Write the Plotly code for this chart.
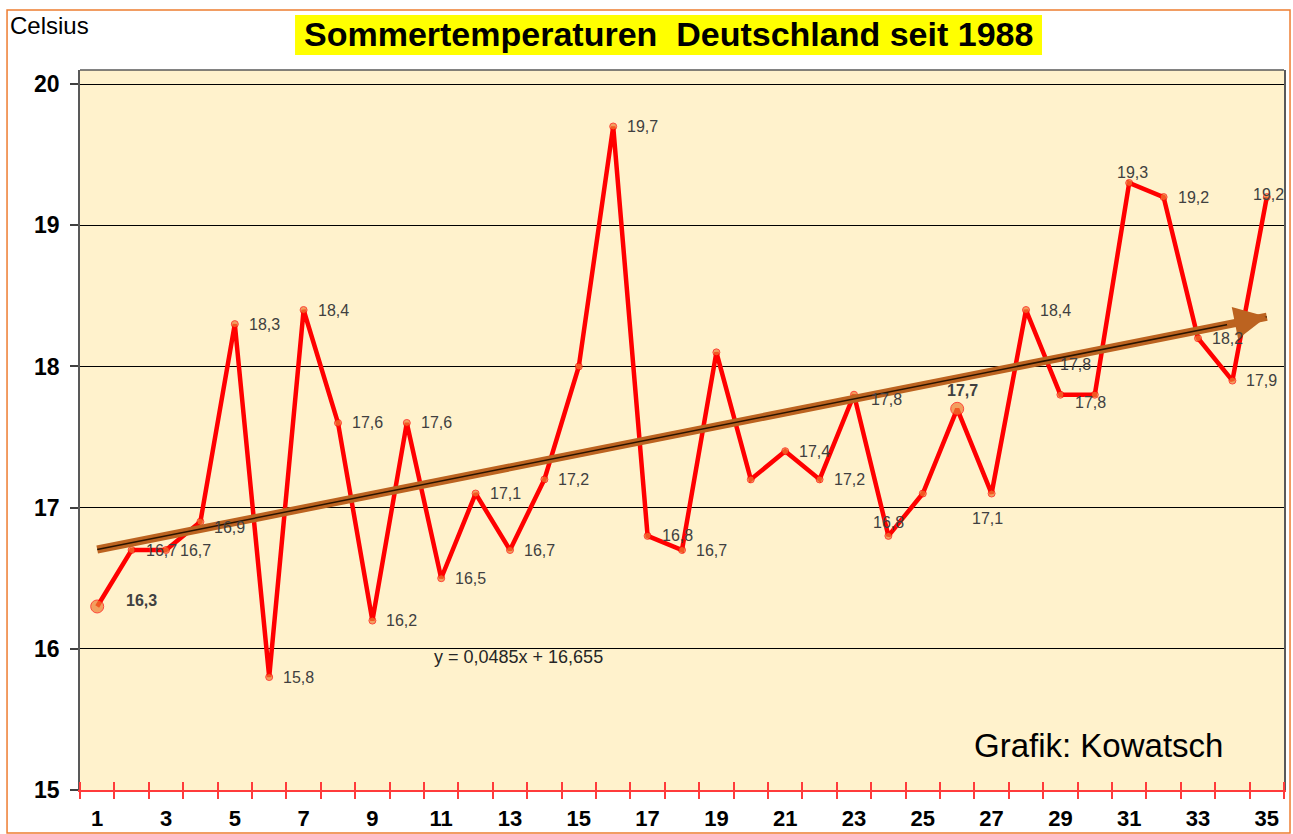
import plotly.graph_objects as go

# ---------------- data ----------------
years_idx = list(range(1, 36))
temps = [16.3, 16.7, 16.7, 16.9, 18.3, 15.8, 18.4, 17.6, 16.2, 17.6,
         16.5, 17.1, 16.7, 17.2, 18.0, 19.7, 16.8, 16.7, 18.1, 17.2,
         17.4, 17.2, 17.8, 16.8, 17.1, 17.7, 17.1, 18.4, 17.8, 17.8,
         19.3, 19.2, 18.2, 17.9, 19.2]
unlabeled = [15, 19, 20, 25]
big_points = [1, 26]
trend_slope = 0.0485
trend_intercept = 16.655
x_tick_labels = list(range(1, 36, 2))
y_tick_labels = [15, 16, 17, 18, 19, 20]

title_text = "Sommertemperaturen  Deutschland seit 1988"
unit_text = "Celsius"
credit_text = "Grafik: Kowatsch"
equation_text = "y = 0,0485x + 16,655"

# label placement (style): idx -> (xanchor, xshift, yshift)
label_place = {
    1: ("left", 27, 6),
    4: ("left", 12, -6),
    23: ("left", 15, -5),
    24: ("center", 0, 13),
    26: ("center", 5, 18),
    27: ("center", -4, -25),
    29: ("left", -2, 30),
    30: ("center", -4, -8),
    31: ("center", 3, 10),
    35: ("center", 2, 3),
}
bold_labels = [1, 26]

FONT = "Liberation Sans, Arial"

fig = go.Figure()

# main series
fig.add_trace(go.Scatter(
    x=years_idx, y=temps, mode="lines+markers",
    line=dict(color="#FF0000", width=4.5),
    marker=dict(color="#ED7D31",
                size=[13 if i in big_points else 7 for i in years_idx]),
    hoverinfo="x+y", showlegend=False,
))

# trend line (drawn on overlaid axis so it sits on top)
tx = [years_idx[0], years_idx[-1]]
ty = [trend_slope * v + trend_intercept for v in tx]
fig.add_trace(go.Scatter(x=tx, y=ty, mode="lines", xaxis="x2",
                         line=dict(color="#BC6320", width=8),
                         hoverinfo="skip", showlegend=False))
fig.add_trace(go.Scatter(x=tx, y=ty, mode="lines", xaxis="x2",
                         line=dict(color="#2A1400", width=1.5),
                         hoverinfo="skip", showlegend=False))

annotations = []
# arrowhead of the trend line
ax0 = years_idx[-1] - 1.2
annotations.append(dict(
    x=tx[1], y=ty[1], ax=ax0, ay=trend_slope * ax0 + trend_intercept,
    xref="x", yref="y", axref="x", ayref="y", showarrow=True,
    arrowhead=2, arrowsize=1.3, arrowwidth=5, arrowcolor="#BC6320", text="",
))

# data labels
for i, v in zip(years_idx, temps):
    if i in unlabeled:
        continue
    xa, xs, ys = label_place.get(i, ("left", 12, 0))
    txt = f"{v:.1f}".replace(".", ",")
    if i in bold_labels:
        txt = f"<b>{txt}</b>"
    annotations.append(dict(
        x=i, y=v, xref="x", yref="y", text=txt, showarrow=False,
        xanchor=xa, yanchor="middle", xshift=xs, yshift=ys,
        font=dict(family=FONT, size=16, color="#404040"),
    ))

# equation
annotations.append(dict(
    x=13.26, y=15.94, xref="x", yref="y", text=equation_text, showarrow=False,
    xanchor="center", yanchor="middle",
    font=dict(family=FONT, size=18, color="#262626"),
))
# title
annotations.append(dict(
    x=0.489, y=1.05, xref="paper", yref="paper", text=title_text,
    showarrow=False, xanchor="center", yanchor="middle",
    font=dict(family=FONT, size=34, color="#000000", weight="bold"),
))
# unit
annotations.append(dict(
    x=-0.0598, y=1.0625, xref="paper", yref="paper", text=unit_text,
    showarrow=False, xanchor="left", yanchor="middle",
    font=dict(family=FONT, size=24, color="#000000"),
))
# credit
annotations.append(dict(
    x=0.951, y=0.0625, xref="paper", yref="paper", text=credit_text,
    showarrow=False, xanchor="right", yanchor="middle",
    font=dict(family=FONT, size=33, color="#000000"),
))

half_ticks = [k + 0.5 for k in range(0, 36)]

shapes = [
    # yellow title box
    dict(type="rect", xref="paper", yref="paper", x0=0.1786, x1=0.799,
         y0=1.0208, y1=1.0764, fillcolor="#FFFF00", line=dict(width=0), layer="below"),
    # top frame line
    dict(type="line", xref="paper", yref="paper", x0=0, x1=1, y0=1, y1=1,
         line=dict(color="#595959", width=1.5)),
    # outer chart border
    dict(type="rect", xref="paper", yref="paper", x0=-0.0606, x1=1.005,
         y0=-0.0597, y1=1.0833, line=dict(color="#ED7D31", width=1.5)),
]

fig.update_layout(
    width=1293, height=834,
    margin=dict(l=80, r=9, t=70, b=44, autoexpand=False),
    paper_bgcolor="#FFFFFF", plot_bgcolor="#FFF2CC",
    showlegend=False,
    annotations=annotations, shapes=shapes,
    xaxis=dict(
        range=[0.5, 35.5], tickmode="array", tickvals=x_tick_labels,
        ticktext=[str(v) for v in x_tick_labels], ticks="",
        showgrid=False, zeroline=False, automargin=False,
        showline=True, linecolor="#FF3B3B", linewidth=2,
        tickfont=dict(family=FONT, size=22, color="#000000", weight="bold"),
        ticklabelstandoff=8,
        minor=dict(tickmode="array", tickvals=half_ticks, ticks="inside",
                   ticklen=8, tickwidth=1.5, tickcolor="#FF3B3B", showgrid=False),
    ),
    xaxis2=dict(
        overlaying="x", matches="x", anchor="y", side="bottom",
        tickmode="array", tickvals=half_ticks, ticks="outside", ticklen=8,
        tickwidth=1.5, tickcolor="#FF3B3B", showticklabels=False,
        showgrid=False, zeroline=False, showline=False, automargin=False,
    ),
    yaxis=dict(
        range=[15, 20.1], tickmode="array", tickvals=y_tick_labels,
        ticks="outside", ticklen=8, tickcolor="#404040", tickwidth=1.5,
        showgrid=True, gridcolor="#000000", gridwidth=1, automargin=False,
        zeroline=False, showline=True, linecolor="#595959", linewidth=1.5,
        mirror=True,
        tickfont=dict(family=FONT, size=23, color="#000000", weight="bold"),
        ticklabelstandoff=6,
    ),
    font=dict(family=FONT),
)

# remove the default 8px page margin so the figure fills the window exactly
fig.write_html(
    "out.html",
    config={"displayModeBar": False},
    post_script="document.body.style.margin='0';document.body.style.overflow='hidden';",
)
